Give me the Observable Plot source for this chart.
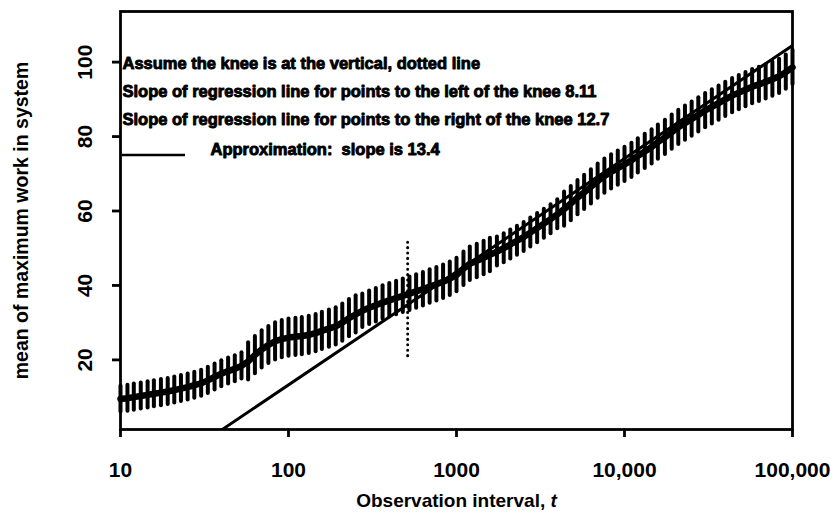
<!DOCTYPE html>
<html><head><meta charset="utf-8">
<script src="https://cdn.jsdelivr.net/npm/d3@7"></script>
<script src="https://cdn.jsdelivr.net/npm/@observablehq/plot@0.6"></script>
<style>
body{margin:0;background:#fff;}
#chart svg{display:block;}
</style></head><body><div id="chart"></div>
<script>
// Observation intervals t (log-spaced, ~25 per decade)
const intervals = [10, 11, 12, 13.2, 14.5, 15.8, 17.4, 19.1, 20.9, 22.9, 25.1, 27.5, 30.2, 33.1, 36.3, 39.8, 43.7, 47.9, 52.5, 57.5, 63.1, 69.2, 75.9, 83.2, 91.2,
  100, 110, 120, 132, 145, 158, 174, 191, 209, 229, 251, 275, 302, 331, 363, 398, 437, 479, 525, 575, 631, 692, 759, 832, 912,
  1000, 1100, 1200, 1320, 1450, 1580, 1740, 1910, 2090, 2290, 2510, 2750, 3020, 3310, 3630, 3980, 4370, 4790, 5250, 5750, 6310, 6920, 7590, 8320, 9120,
  10000, 11000, 12000, 13200, 14500, 15800, 17400, 19100, 20900, 22900, 25100, 27500, 30200, 33100, 36300, 39800, 43700, 47900, 52500, 57500, 63100, 69200, 75900, 83200, 91200,
  100000];
// Mean of maximum work in system
const meanWork = [9.5, 9.7, 10.0, 10.3, 10.6, 10.9, 11.2, 11.5, 11.9, 12.3,
  12.7, 13.2, 13.7, 14.5, 15.4, 16.3, 17.0, 17.6, 18.4, 19.6,
  21.3, 22.8, 24.0, 25.0, 25.6, 26.0, 26.2, 26.4, 26.7, 27.2,
  27.8, 28.4, 29.0, 30.0, 31.2, 32.2, 33.2, 34.0, 34.7, 35.4,
  36.0, 36.6, 37.2, 37.8, 38.4, 39.0, 39.7, 40.3, 41.0, 41.8,
  42.8, 44.5, 45.8, 46.6, 47.4, 48.2, 49.1, 50.0, 51.0, 52.0,
  53.0, 54.2, 55.4, 56.6, 57.8, 59.1, 60.5, 62.0, 63.6, 65.0,
  66.5, 68.0, 69.4, 70.5, 71.5, 72.5, 73.6, 74.8, 76.0, 77.2,
  78.5, 79.8, 81.2, 82.5, 83.6, 84.7, 85.8, 87.0, 88.0, 89.0,
  90.0, 91.0, 91.8, 92.6, 93.4, 94.0, 94.7, 95.4, 96.2, 97.3,
  98.6];
// Half-length of each vertical error bar
const halfSpread = [3.5, 3.5, 3.5, 3.5, 3.5, 3.5, 3.5, 3.5, 3.5, 3.5,
  3.5, 3.5, 3.5, 3.5, 3.5, 3.5, 3.5, 3.5, 3.5, 5.0,
  5.0, 5.0, 5.0, 5.0, 5.0, 5.0, 5.0, 5.0, 5.0, 5.0,
  5.0, 5.0, 5.0, 5.0, 5.0, 5.0, 4.5, 4.5, 4.5, 4.5,
  4.5, 4.5, 4.5, 4.5, 4.5, 4.5, 4.5, 4.5, 4.5, 4.5,
  4.5, 4.5, 4.5, 4.5, 4.5, 4.5, 3.9, 3.9, 3.9, 3.9,
  3.9, 3.9, 3.9, 3.9, 3.9, 3.9, 4.6, 4.6, 4.6, 4.6,
  4.6, 4.6, 4.6, 4.6, 4.6, 4.6, 4.6, 4.6, 4.6, 4.6,
  4.6, 4.6, 4.6, 4.6, 4.6, 4.6, 4.6, 4.6, 4.6, 4.6,
  4.6, 4.6, 4.6, 4.6, 4.6, 4.6, 4.6, 4.6, 4.6, 4.6,
  4.6];

const xTicks = [10, 100, 1000, 10000, 100000];
const xTickLabels = ["10", "100", "1000", "10,000", "100,000"];
const yTicks = [20, 40, 60, 80, 100];

const kneeT = 512;
const kneeSpan = [21, 52.5];

const approxSlope = 13.2;      // per ln(t), as drawn
const approxIntercept = -47.5;
const approxEnds = [40, 100000];

const legendLines = [
  "Assume the knee is at the vertical, dotted line",
  "Slope of regression line for points to the left of the knee 8.11",
  "Slope of regression line for points to the right of the knee 12.7"
];
const approxLabel = "Approximation:  slope is 13.4";

const rows = intervals.map((t, i) => ({t, m: meanWork[i], lo: meanWork[i] - halfSpread[i], hi: meanWork[i] + halfSpread[i]}));
const approx = approxEnds.map(t => ({t, y: approxSlope * Math.log(t) + approxIntercept}));

const font = "'Liberation Sans', Arial, Helvetica, sans-serif";
const legendStyle = {frameAnchor: "top-left", textAnchor: "start", lineAnchor: "middle", fontSize: 16.5, fontWeight: "bold", fill: "black", stroke: "black", strokeWidth: 0.9, ariaLabel: "legend"};

const plot = Plot.plot({
  width: 835, height: 516,
  marginLeft: 120, marginRight: 43, marginTop: 11, marginBottom: 87,
  style: {fontFamily: font, fontWeight: "bold", color: "black", background: "white", overflow: "visible"},
  x: {type: "log", domain: [10, 100000]},
  y: {domain: [1.3, 113.6]},
  marks: [
    Plot.ruleX(rows, {x: "t", y1: "lo", y2: "hi", stroke: "black", strokeWidth: 4, strokeLinecap: "round"}),
    Plot.line(rows, {x: "t", y: "m", stroke: "black", strokeWidth: 6.5, strokeLinejoin: "round"}),
    Plot.line(approx, {x: "t", y: "y", stroke: "black", strokeWidth: 3, clip: true}),
    Plot.ruleX([kneeT], {x: d => d, y1: kneeSpan[0], y2: kneeSpan[1], stroke: "black", strokeWidth: 3, strokeDasharray: "0.1 5.3", strokeLinecap: "round"}),
    Plot.frame({stroke: "black", strokeWidth: 2.8}),
    Plot.axisX({ticks: xTicks, tickFormat: d => xTickLabels[xTicks.indexOf(d)], tickSize: 8, tickPadding: 25, fontSize: 21, strokeWidth: 2.8,
      label: "Observation interval, t", labelAnchor: "center", labelOffset: 77, labelArrow: "none"}),
    Plot.axisY({ticks: yTicks, tickSize: 8, tickRotate: -90, tickPadding: 21, fontSize: 21, strokeWidth: 2.8,
      label: "mean of maximum work in system", labelAnchor: "center", labelOffset: 106, labelArrow: "none"}),
    Plot.text([legendLines[0]], {...legendStyle, text: d => d, dx: 2, dy: 52}),
    Plot.text([legendLines[1]], {...legendStyle, text: d => d, dx: 2, dy: 80}),
    Plot.text([legendLines[2]], {...legendStyle, text: d => d, dx: 2, dy: 108}),
    Plot.text([approxLabel], {...legendStyle, text: d => d, dx: 90, dy: 138})
  ]
});
document.getElementById("chart").appendChild(plot);

const svg = d3.select(plot);
// legend widths (the printed type is condensed)
const legendTexts = svg.selectAll("g[aria-label='legend'] text");
const ref = legendTexts.filter(function() { return this.textContent === legendLines[1]; }).node();
const factor = ref ? 501 / ref.getComputedTextLength() : 1;
legendTexts.each(function() {
  const L = this.getComputedTextLength();
  d3.select(this).attr("textLength", L * factor).attr("lengthAdjust", "spacingAndGlyphs");
});
// legend sample line
svg.append("line").attr("x1", 122).attr("x2", 185).attr("y1", 155).attr("y2", 155)
  .attr("stroke", "black").attr("stroke-width", 2.6);
// axis titles
svg.selectAll("g[aria-label='y-axis label'] text").style("font-size", "19.5px");
const xl = svg.selectAll("g[aria-label='x-axis label'] text").style("font-size", "19px");
xl.each(function() {
  const t = d3.select(this);
  t.text(null);
  t.append("tspan").text("Observation interval, ");
  t.append("tspan").style("font-style", "italic").text("t");
});
</script></body></html>
